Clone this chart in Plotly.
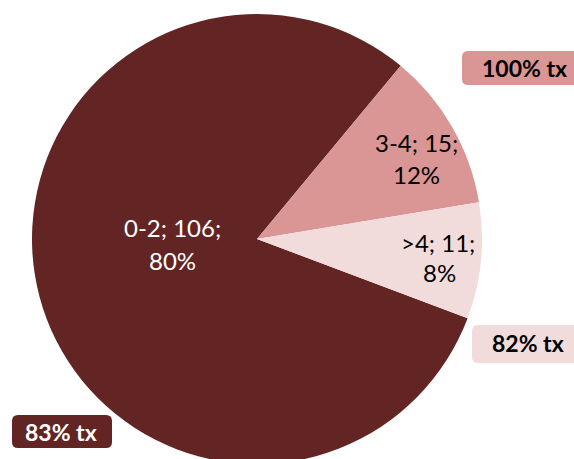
import plotly.graph_objects as go

categories = ["0-2", "3-4", ">4"]
counts = [106, 15, 11]
pct_labels = ["80%", "12%", "8%"]
colors = ["#632523", "#D99694", "#F2DCDB"]
text_colors = ["white", "black", "black"]
box_labels = ["83% tx", "100% tx", "82% tx"]

W, H = 574, 474
L, T, D = 32, 14, 450  # plot area left, top, size (px)
R = W - L - D
B = H - T - D
FONT = "Lato, Open Sans, sans-serif"


def px(x):
    return (x - L) / D


def py(y):
    return 1 - (y - T) / D


fig = go.Figure(go.Pie(
    labels=categories,
    values=counts,
    sort=False,
    direction="clockwise",
    rotation=110.6,
    marker=dict(colors=colors, line=dict(width=0)),
    textinfo="none",
    showlegend=False,
    hoverinfo="label+value+percent",
))

annotations = []
# slice labels: (line1 center, line2 center) in px
label_pos = [((172, 228), (172, 260)), ((416, 142), (416, 174)), ((438, 242), (439, 272))]
for cat, n, pct, tc, ((x1, y1), (x2, y2)) in zip(categories, counts, pct_labels, text_colors, label_pos):
    for txt, x, y in ((f"{cat}; {n};", x1, y1), (pct, x2, y2)):
        annotations.append(dict(x=px(x), y=py(y), xref="paper", yref="paper", text=txt,
                                showarrow=False, xanchor="center", yanchor="middle",
                                font=dict(family=FONT, size=24, color=tc)))

# rounded boxes (pixel extents) and text centers
boxes = [
    (12, 415, 112, 448, 61, 432),
    (462, 51, 590, 85, 524, 68),
    (472, 325, 590, 363, 528, 343),
]
shapes = []
r = 6
for (x0, y0, x1, y1, tx, ty), lab, col, tc in zip(boxes, box_labels, colors, text_colors):
    path = (f"M {px(x0 + r)},{py(y0)} L {px(x1 - r)},{py(y0)} Q {px(x1)},{py(y0)} {px(x1)},{py(y0 + r)} "
            f"L {px(x1)},{py(y1 - r)} Q {px(x1)},{py(y1)} {px(x1 - r)},{py(y1)} "
            f"L {px(x0 + r)},{py(y1)} Q {px(x0)},{py(y1)} {px(x0)},{py(y1 - r)} "
            f"L {px(x0)},{py(y0 + r)} Q {px(x0)},{py(y0)} {px(x0 + r)},{py(y0)} Z")
    shapes.append(dict(type="path", xref="paper", yref="paper", path=path,
                       fillcolor=col, line=dict(width=0), layer="above"))
    annotations.append(dict(x=px(tx), y=py(ty), xref="paper", yref="paper", text=f"<b>{lab}</b>",
                            showarrow=False, xanchor="center", yanchor="middle",
                            font=dict(family=FONT, size=23, color=tc)))

fig.update_layout(
    width=W, height=H,
    margin=dict(l=L, r=R, t=T, b=B, pad=0),
    paper_bgcolor="white",
    plot_bgcolor="white",
    shapes=shapes,
    annotations=annotations,
)

fig.write_html("out.html", config={"displayModeBar": False},
               post_script="document.body.style.margin='0';document.body.style.overflow='hidden';")
